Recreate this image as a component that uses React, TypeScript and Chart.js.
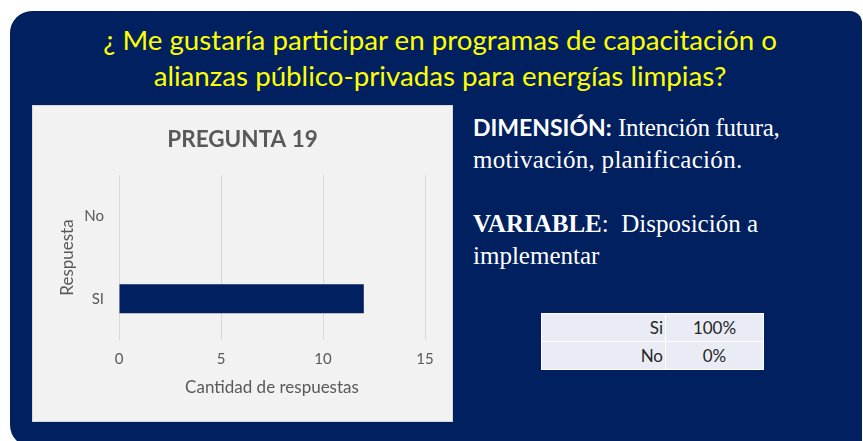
import React, { useEffect, useRef } from "react";
import { Chart, registerables } from "chart.js";

Chart.register(...registerables);

const titleLines = [
  "¿ Me gustaría participar en programas de capacitación o",
  "alianzas público-privadas para energías limpias?",
];
const chartTitle = "PREGUNTA 19";
const categories = ["SI", "No"];
const responseCounts = [12, 0];
const xTickMin = 0;
const xTickMax = 15;
const xTickStep = 5;
const xAxisTitle = "Cantidad de respuestas";
const yAxisTitle = "Respuesta";
const tableLabels = ["Si", "No"];
const tablePercents = ["100%", "0%"];

const NAVY = "#002060";
const GRAY_TEXT = "#595959";

export default function App() {
  const canvasRef = useRef<HTMLCanvasElement | null>(null);

  useEffect(() => {
    if (!canvasRef.current) return;
    const chart = new Chart(canvasRef.current, {
      type: "bar",
      data: {
        labels: categories,
        datasets: [
          {
            data: responseCounts,
            backgroundColor: NAVY,
            borderWidth: 0,
            categoryPercentage: 1,
            barPercentage: 0.35,
          },
        ],
      },
      options: {
        indexAxis: "y",
        animation: false,
        responsive: false,
        maintainAspectRatio: false,
        layout: { padding: 0 },
        plugins: {
          legend: { display: false },
          tooltip: { enabled: false },
          title: {
            display: true,
            text: chartTitle,
            color: GRAY_TEXT,
            font: { family: "Lato", size: 22.5, weight: "bold" },
            padding: { top: 21, bottom: 22 },
          },
        },
        scales: {
          x: {
            min: xTickMin,
            max: xTickMax,
            ticks: {
              stepSize: xTickStep,
              color: GRAY_TEXT,
              font: { family: "Lato", size: 15 },
              padding: 10,
            },
            grid: { color: "#D9D9D9", lineWidth: 1, drawTicks: false },
            border: { display: false },
            title: {
              display: true,
              text: xAxisTitle,
              color: GRAY_TEXT,
              font: { family: "Lato", size: 17 },
              padding: { top: 0, bottom: 24 },
            },
            afterFit: (scale: any) => {
              scale.height = 82;
            },
          },
          y: {
            reverse: true,
            ticks: {
              color: GRAY_TEXT,
              font: { family: "Lato", size: 15 },
              padding: 15,
            },
            grid: { display: false, drawTicks: false },
            border: { display: false },
            title: {
              display: true,
              text: yAxisTitle,
              color: GRAY_TEXT,
              font: { family: "Lato", size: 17 },
              padding: { top: 25, bottom: 0 },
            },
            afterFit: (scale: any) => {
              scale.width = 87;
            },
          },
          yRight: {
            type: "category",
            position: "right",
            display: true,
            ticks: { display: false },
            grid: { display: false, drawTicks: false },
            border: { display: false },
            afterFit: (scale: any) => {
              scale.width = 28;
            },
          },
        },
      },
    });
    return () => chart.destroy();
  }, []);

  return (
    <div
      style={{
        position: "relative",
        width: 863,
        height: 441,
        overflow: "hidden",
        background: "#ffffff",
      }}
    >
      <style>{`body{margin:0}`}</style>
      <div
        style={{
          position: "absolute",
          left: 10,
          top: 11,
          width: 852,
          height: 436,
          background: NAVY,
          borderRadius: "22px 12px 0 22px",
        }}
      />
      <div
        style={{
          position: "absolute",
          left: 0,
          top: 22,
          width: 880,
          textAlign: "center",
          color: "#FFFF00",
          fontFamily: "Lato, sans-serif",
          fontSize: 27.7,
          lineHeight: "36px",
          whiteSpace: "nowrap",
        }}
      >
        {titleLines.map((l, i) => (
          <div key={i}>{l}</div>
        ))}
      </div>
      <div
        style={{
          position: "absolute",
          left: 32,
          top: 105,
          width: 421,
          height: 317,
          boxSizing: "border-box",
          background: "#F2F2F2",
          border: "1px solid #D9D9D9",
        }}
      />
      <canvas
        ref={canvasRef}
        width={421}
        height={317}
        style={{ position: "absolute", left: 32, top: 105, width: 421, height: 317 }}
      />
      <div
        style={{
          position: "absolute",
          left: 473,
          top: 111,
          color: "#FFFFFF",
          fontFamily: "'Liberation Serif', 'Times New Roman', serif",
          fontSize: 25,
          lineHeight: "32px",
          whiteSpace: "nowrap",
        }}
      >
        <div>
          <span style={{ fontFamily: "Lato, sans-serif", fontWeight: 700, fontSize: 23 }}>DIMENSIÓN:</span>{" "}
          <span style={{ letterSpacing: -0.3 }}>Intención futura,</span>
        </div>
        <div style={{ letterSpacing: 0.3 }}>motivación, planificación.</div>
        <div>&nbsp;</div>
        <div>
          <span style={{ fontWeight: 700 }}>VARIABLE</span>:&nbsp; Disposición a
        </div>
        <div>implementar</div>
      </div>
      <table
        style={{
          position: "absolute",
          left: 541,
          top: 313,
          width: 223,
          height: 56,
          borderCollapse: "collapse",
          fontFamily: "Lato, sans-serif",
          fontSize: 17,
          color: "#262626",
        }}
      >
        <tbody>
          {tableLabels.map((lab, i) => (
            <tr key={lab} style={{ height: 28 }}>
              <td
                style={{
                  width: 121,
                  padding: "0 2px 0 0",
                  textAlign: "right",
                  background: "#E9EBF5",
                  border: "1px solid #FFFFFF",
                }}
              >
                {lab}
              </td>
              <td
                style={{
                  padding: 0,
                  textAlign: "center",
                  background: "#E9EBF5",
                  border: "1px solid #FFFFFF",
                }}
              >
                {tablePercents[i]}
              </td>
            </tr>
          ))}
        </tbody>
      </table>
    </div>
  );
}
